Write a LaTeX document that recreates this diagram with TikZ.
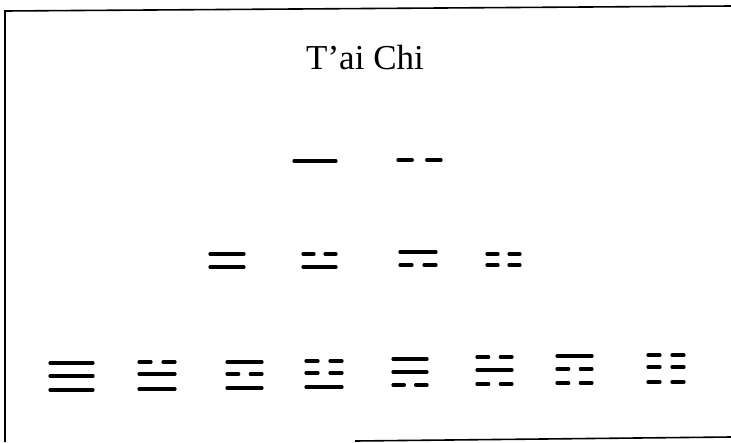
\documentclass[tikz,border=0pt]{standalone}
\usepackage{fontspec}
\setmainfont{Liberation Serif}
\tikzset{
  frameline/.style={line width=1.6pt, black},
  trline/.style={line width=3.2pt, black, line cap=round},
  titletext/.style={font=\fontsize{35}{40}\selectfont, inner sep=0pt, anchor=base}
}
% solid (yang) line: x1, x2, y
\newcommand\YangL[3]{\draw[trline] (#1,#3) -- (#2,#3);}
% broken (yin) line: x1, x2, y
\newcommand\YinL[3]{%
  \draw[trline] (#1,#3) -- ++({(#2-#1)/3},0);
  \draw[trline] (#2,#3) -- ++({-(#2-#1)/3},0);}
\begin{document}
\begin{tikzpicture}[x=1pt,y=-1pt]
\useasboundingbox (0,0) rectangle (731,442);
% frame
\coordinate (fbl) at (5,442);
\coordinate (ftl) at (5,11);
\coordinate (ftr) at (731,6);
\coordinate (fbm) at (355,441);
\coordinate (fbr) at (731,437);
\draw[frameline] (fbl) -- (ftl) -- (ftr);
\draw[frameline] (fbm) -- (fbr);
% title
\node[titletext] (title) at (365,69) {T’ai Chi};
% monograms
\YangL{294}{336}{161}
\YinL{398}{441}{160}
% digrams
\YangL{210}{244}{254}\YangL{210}{244}{267}
\YinL{303}{336}{254}\YangL{303}{336}{267}
\YangL{400}{436}{252}\YinL{400}{436}{265}
\YinL{487}{520}{254}\YinL{487}{520}{265}
% trigrams
\YangL{50}{93}{363}\YangL{50}{93}{376}\YangL{50}{93}{390}
\YinL{139}{175}{362}\YangL{139}{175}{374}\YangL{139}{175}{389}
\YangL{227}{262}{362}\YinL{227}{262}{374}\YangL{227}{262}{388}
\YinL{306}{342}{361}\YinL{306}{342}{373}\YangL{306}{342}{387}
\YangL{393}{427}{359}\YangL{393}{427}{372}\YinL{393}{427}{385}
\YinL{477}{512}{357}\YangL{477}{512}{370}\YinL{477}{512}{384}
\YangL{557}{592}{356}\YinL{557}{592}{369}\YinL{557}{592}{383}
\YinL{648}{684}{355}\YinL{648}{684}{367}\YinL{648}{684}{382}
\end{tikzpicture}
\end{document}
